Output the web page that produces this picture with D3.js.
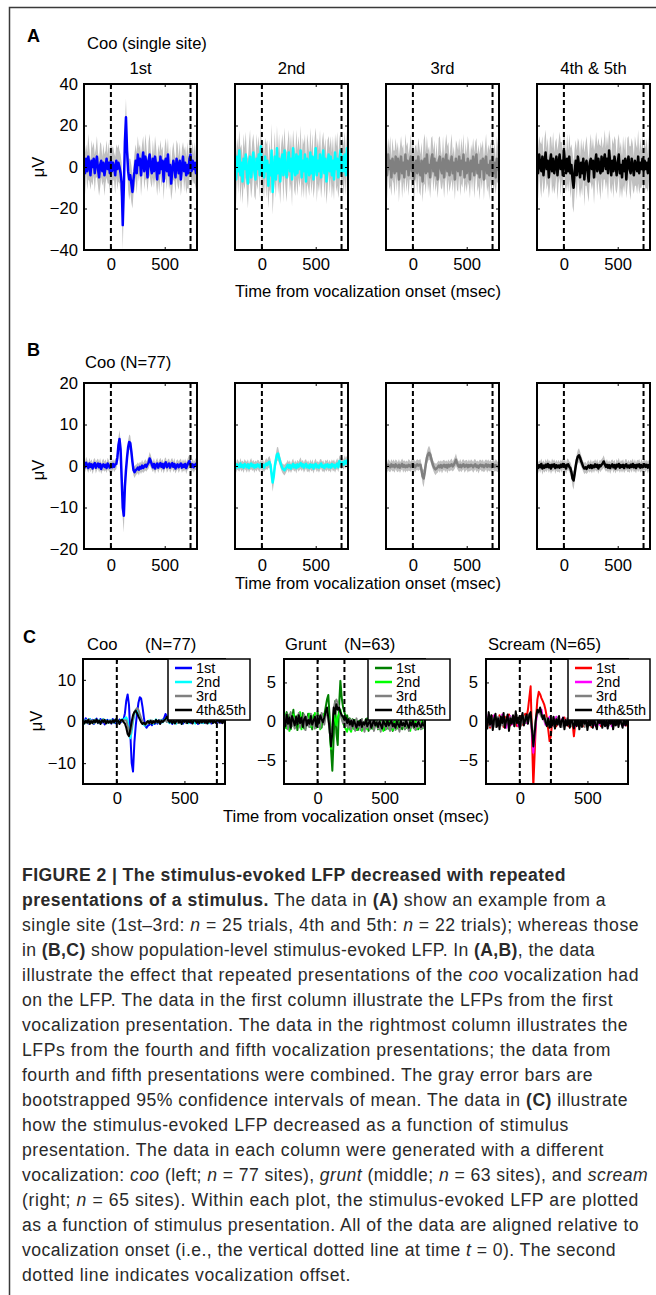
<!DOCTYPE html>
<html><head><meta charset="utf-8">
<script src="https://cdn.jsdelivr.net/npm/d3@7"></script>
<style>body{margin:0;background:#fff}svg{display:block}</style>
</head><body><svg id="c" width="656" height="1295"></svg>
<script>
// ---------- DATA (time grid: -250 ms, step 10 ms) ----------
const T0 = -250, STEP = 10;
const xDomain = [-250, 800];
const xTicks = [0, 500];
const presTitles = ["1st", "2nd", "3rd", "4th & 5th"];
const legendLabels = ["1st", "2nd", "3rd", "4th&5th"];
const cooOffset = 740, gruntOffset = 200, screamOffset = 230;
const yTicksA = [-40, -20, 0, 20, 40];
const yTicksB = [-20, -10, 0, 10, 20];
const yTicksCoo = [-10, 0, 10];
const yTicksGS = [-5, 0, 5];

// Panel A: single site, mean and CI half-width (uV)
const a1 = [2,-3,4,-2,5,1,-4,3,0,4, -3,2,5,-1,-5,1,3,-2,2,-4, 0,4,-1,2,-3,3,-2,2,0,-4, 3,-1,2,0,-3,-8,-28,-10,12,24,
 8,-2,-6,-4,-8,-12,-6,-2,3,-3, 6,1,4,-4,2,7,-2,5,2,-5, 3,6,0,-3,4,-2,5,1,-6,2, -3,5,-1,3,-7,2,4,-2,6,-4,
 1,-8,-2,3,0,-5,4,1,-3,3, -6,0,5,-2,2,-4,1,-3,4,6, -2,3,-1,2,-3,1];
const a1ci = [8,10,7,9,11,8,7,10,9,8, 9,7,10,8,9,11,8,7,9,10, 8,9,7,10,8,9,11,8,7,9, 8,10,9,8,9,10,12,9,8,9,
 8,9,10,8,9,8,7,9,8,10, 9,8,7,10,9,8,9,11,8,7, 9,10,8,7,9,8,10,9,8,9, 10,8,9,7,9,8,10,9,8,7,
 9,8,10,9,7,8,9,10,8,9, 8,9,7,10,8,9,11,8,9,10, 8,9,7,10,8,9];
const a2 = [3,-6,5,-2,8,-4,2,-7,4,-1, 6,-3,-8,2,5,-5,1,7,-2,-6, 4,-1,6,-4,10,-3,2,-5,5,-2, 3,-9,1,-4,8,-12,-2,5,-6,9,
 -3,4,-7,2,6,-4,8,-1,-5,3, 7,-2,4,-6,9,0,-4,6,-3,5, -1,8,-5,3,-2,6,-7,4,1,-4, 7,-3,5,-6,2,9,-4,3,-2,6,
 -5,2,8,-3,4,-7,1,6,-2,5, -4,3,-6,7,-1,4,-5,2,8,-3, 5,-2,6,-4,9,3];
const a2ci = [10,12,9,11,10,13,9,11,12,10, 11,9,12,10,13,10,11,9,12,10, 12,10,9,11,10,12,11,10,9,13, 10,11,12,9,13,11,10,12,9,11,
 10,12,11,9,10,13,11,10,12,9, 11,10,12,13,9,11,10,12,11,10, 9,12,10,11,13,10,9,12,11,10, 12,10,11,9,12,10,13,11,10,12,
 10,11,9,12,10,11,12,9,11,10, 11,12,10,9,11,13,10,12,9,11, 10,12,11,10,9,12];
const a3 = [2,-4,6,-1,3,-5,4,0,-3,5, -2,4,-6,1,5,-3,2,-5,6,-1, 3,-4,2,5,-2,4,-6,1,3,-3, 5,-1,-4,3,-7,2,4,-3,6,-2,
 1,-5,3,6,-2,4,-4,2,-6,3, 5,-1,-3,4,-5,2,6,-2,3,-4, 1,5,-3,2,-6,4,0,-2,5,-4, 3,-1,6,-5,2,-3,4,1,-6,3,
 -2,5,-4,2,6,-3,1,-5,3,-1, 4,-6,2,5,-3,1,-4,3,-2,5, -3,2,-5,4,1,-2];
const a3ci = [9,11,8,10,12,9,10,8,11,9, 10,8,11,9,10,12,9,8,10,11, 9,10,8,11,9,10,12,9,8,10, 9,11,10,9,10,11,12,10,9,10,
 9,10,11,9,10,9,8,10,9,11, 10,9,8,11,10,9,10,12,9,8, 10,11,9,8,10,9,11,10,9,10, 11,9,10,8,10,9,11,10,9,8,
 10,9,11,10,8,9,10,11,9,10, 9,10,8,11,9,10,12,9,10,11, 9,10,8,11,9,10];
const a4 = [4,-3,6,1,-2,5,-4,2,7,-1, 3,-5,2,6,-2,4,-3,1,5,-4, 2,6,-1,3,-4,8,2,-3,4,-2, 5,-3,1,-6,-10,-2,3,-4,5,1,
 -5,2,-3,4,-6,1,3,-2,-7,2, 4,-1,3,-5,2,6,-2,4,0,-3, 5,-2,3,6,-1,4,-3,8,2,-4, 3,-2,5,1,-4,2,6,-3,1,-5,
 3,-2,4,-6,2,5,-1,-3,4,0, -4,3,1,-2,5,-3,2,-1,4,-2, 3,-1,2,-3,4,1];
const a4ci = [10,12,9,11,13,10,9,12,11,10, 11,10,12,9,11,13,10,11,9,12, 10,11,13,9,12,10,11,9,12,10, 11,12,10,13,12,11,10,12,9,11,
 10,12,11,9,13,10,12,11,10,9, 12,10,11,13,9,11,12,10,11,13, 10,11,9,12,10,11,13,10,12,9, 11,13,10,12,9,11,10,12,11,10,
 12,10,11,9,12,10,11,13,10,11, 9,12,10,11,13,10,12,9,11,10, 11,10,12,9,11,10];

// Panel B: population coo (N=77), mean and CI half-width (uV)
const b1 = [0.5,-0.3,0.8,0.2,-0.5,0.6,-0.2,0.4,-0.6,0.3, 0.7,-0.4,0.2,0.6,-0.3,0.5,-0.7,0.1,0.4,-0.2, 0.3,-0.5,0.6,0.1,-0.4,0.2,-0.3,0.5,-0.2,0.4,
 0.5,2,5,6.5,4,-3,-10,-12,-5,-1, 2,4.5,5.8,5.5,3.5,1,-1,-1.5,-1,-0.8, -0.4,-0.9,-0.2,-0.6,0.1,-0.5,-0.1,0.3,-0.2,0.4,
 0.8,1.8,1.2,0.4,-0.3,0.5,-0.6,0.2,0.6,-0.4, 0.3,0.7,-0.2,0.5,-0.5,0.4,0.9,-0.3,0.2,0.6, -0.4,0.3,0.7,-0.2,0.5,-0.6,0.1,0.4,-0.3,0.2,
 0.6,-0.4,0.3,-0.2,0.5,-0.5,0.2,0.8,1.2,0.3, -0.2,0.4,-0.3,0.2,0.5,-0.1];
const b1ci = [1.3,1.2,1.4,1.3,1.2,1.4,1.3,1.2,1.4,1.3, 1.2,1.4,1.3,1.2,1.3,1.4,1.2,1.3,1.4,1.2, 1.3,1.2,1.4,1.3,1.2,1.3,1.4,1.2,1.3,1.4,
 1.3,1.5,1.9,2.2,2,1.8,2.8,4,2.5,1.6, 1.5,1.7,1.8,1.8,1.6,1.4,1.3,1.4,1.3,1.2, 1.3,1.4,1.2,1.3,1.4,1.2,1.3,1.4,1.2,1.3,
 1.4,1.6,1.5,1.3,1.2,1.4,1.3,1.2,1.4,1.3, 1.2,1.3,1.4,1.2,1.3,1.4,1.2,1.3,1.4,1.2, 1.3,1.4,1.2,1.3,1.4,1.2,1.3,1.2,1.4,1.3,
 1.2,1.3,1.4,1.2,1.3,1.4,1.3,1.5,1.6,1.3, 1.2,1.4,1.3,1.2,1.4,1.3];
const b2 = [0.3,-0.5,0.4,0.1,-0.3,0.6,-0.2,0.2,-0.4,0.5, 0.1,-0.3,0.4,-0.5,0.2,0.6,-0.1,0.3,-0.4,0.2, -0.2,0.4,0.1,-0.3,0.5,-0.1,0.3,-0.4,0.2,0.6,
 0.2,0.8,1,0.3,-2,-4,-2.5,0,1.5,2.8, 3,2,1,0.2,-0.5,-0.8,-1,-0.6,-0.2,0.3, -0.4,0.2,-0.6,0.1,0.5,-0.3,0.2,-0.5,0.4,-0.2,
 0.3,0.7,-0.1,0.4,-0.4,0.2,0.5,-0.3,0.1,-0.5, 0.4,-0.2,0.3,-0.6,0.2,0.5,-0.3,0.1,-0.4,0.3, 0.6,-0.2,0.1,-0.5,0.3,-0.1,0.4,-0.3,0.2,-0.4,
 0.5,-0.1,0.3,-0.4,0.2,0.6,-0.3,1.2,0.8,0.4, 0.9,0.3,1.2,0.6,1.3,0.8];
const b2ci = [1.2,1.1,1.3,1.2,1.1,1.3,1.2,1.1,1.3,1.2, 1.1,1.3,1.2,1.1,1.2,1.3,1.1,1.2,1.3,1.1, 1.2,1.1,1.3,1.2,1.1,1.2,1.3,1.1,1.2,1.3,
 1.2,1.3,1.4,1.3,1.6,2.2,1.8,1.4,1.5,1.7, 1.6,1.4,1.3,1.2,1.1,1.2,1.3,1.2,1.1,1.2, 1.3,1.2,1.1,1.2,1.3,1.1,1.2,1.3,1.1,1.2,
 1.3,1.4,1.2,1.1,1.2,1.3,1.1,1.2,1.3,1.1, 1.2,1.1,1.3,1.2,1.1,1.3,1.2,1.1,1.2,1.3, 1.1,1.2,1.3,1.1,1.2,1.3,1.2,1.1,1.3,1.2,
 1.1,1.2,1.3,1.2,1.1,1.3,1.2,1.4,1.3,1.2, 1.3,1.2,1.4,1.3,1.2,1.3];
const b3 = [0.2,-0.4,0.3,0,-0.3,0.4,-0.1,0.2,-0.3,0.4, 0,-0.3,0.3,-0.4,0.1,0.5,-0.2,0.2,-0.3,0.1, -0.2,0.3,0.1,-0.2,0.4,0,0.3,-0.3,0.1,0.4,
 0.1,0.3,0.3,-1,-2.5,-3,-1.5,0.5,2,2.8, 3.2,2.8,1.8,0.8,0,-0.5,-0.8,-0.6,-0.3,0.1, -0.3,0.2,-0.4,0.1,0.3,-0.2,0.2,-0.4,0.3,-0.1,
 0.2,0.4,-0.1,0.3,0.8,1.5,0.7,0.1,-0.2,0.3, -0.3,0.2,0.4,-0.2,0.1,0.3,-0.3,0.2,-0.1,0.3, 0.1,-0.3,0.2,0.4,-0.2,0.1,-0.4,0.2,0.3,-0.1,
 0.2,-0.3,0.1,0.4,-0.2,0.3,-0.1,0.2,-0.3,0.1, 0.3,-0.2,0.2,0,-0.3,0.2];
const b3ci = [1.3,1.2,1.3,1.4,1.2,1.3,1.2,1.4,1.3,1.2, 1.3,1.2,1.4,1.3,1.2,1.3,1.4,1.2,1.3,1.2, 1.2,1.4,1.3,1.2,1.3,1.2,1.4,1.3,1.2,1.3,
 1.3,1.2,1.4,1.5,1.8,2.1,1.7,1.4,1.5,1.6, 1.7,1.5,1.4,1.3,1.2,1.3,1.4,1.2,1.3,1.2, 1.3,1.2,1.4,1.3,1.2,1.3,1.2,1.4,1.3,1.2,
 1.3,1.4,1.2,1.3,1.4,1.5,1.3,1.2,1.3,1.4, 1.2,1.3,1.2,1.4,1.3,1.2,1.3,1.4,1.2,1.3, 1.2,1.3,1.4,1.2,1.3,1.2,1.4,1.3,1.2,1.3,
 1.4,1.2,1.3,1.2,1.4,1.3,1.2,1.3,1.4,1.2, 1.3,1.2,1.4,1.3,1.2,1.3];
const b4 = [0.4,-0.5,0.2,-0.3,0.5,-0.6,0.1,-0.4,0.3,-0.2, 0.5,-0.3,0.2,-0.6,0.3,-0.1,0.4,-0.5,0.2,-0.3, 0.1,-0.4,0.3,-0.2,0.5,-0.1,0.2,-0.6,0.3,0.4,
 -0.2,-0.5,-1.5,-3,-3.5,-1.8,0,1.5,2.3,2.6, 2,1.2,0.5,-0.2,-0.6,-0.3,-0.7,-0.2,0.1,-0.4, 0.2,-0.5,0.1,-0.3,0.4,-0.2,0.3,-0.6,0.2,-0.1,
 0.3,0.6,1.1,0.4,-0.2,0.3,-0.4,0.2,-0.5,0.1, 0.4,-0.3,0.2,-0.6,0.3,-0.1,0.5,-0.4,0.2,-0.2, 0.3,-0.5,0.2,0.4,-0.3,0.1,-0.4,0.3,-0.2,0.5,
 -0.3,0.2,-0.5,0.3,-0.1,0.4,-0.4,0.2,-0.3,0.1, 0.4,-0.2,0.3,-0.4,0.2,-0.1];
const b4ci = [1.4,1.3,1.2,1.4,1.3,1.5,1.3,1.2,1.4,1.3, 1.3,1.4,1.2,1.3,1.5,1.3,1.2,1.4,1.3,1.2, 1.4,1.3,1.2,1.4,1.3,1.2,1.4,1.3,1.5,1.3,
 1.3,1.4,1.6,1.9,2.2,1.8,1.5,1.4,1.6,1.7, 1.5,1.4,1.3,1.2,1.4,1.3,1.2,1.4,1.3,1.2, 1.4,1.3,1.2,1.4,1.3,1.2,1.4,1.3,1.2,1.4,
 1.3,1.4,1.5,1.3,1.2,1.4,1.3,1.2,1.4,1.3, 1.2,1.4,1.3,1.2,1.4,1.3,1.5,1.3,1.2,1.4, 1.3,1.2,1.4,1.3,1.2,1.4,1.3,1.2,1.4,1.3,
 1.2,1.4,1.3,1.2,1.4,1.3,1.2,1.4,1.3,1.2, 1.4,1.3,1.2,1.4,1.3,1.2];

// Panel C: grunt (N=63) and scream (N=65) means (uV); coo uses panel B means
const g1 = [0.5,-0.8,1.2,-0.3,0.9,-1,0.4,1.5,-0.6,0.2, -1.1,0.7,0.3,-0.5,1.1,-0.9,0.6,-0.2,1,-0.7, 0.4,-1,0.8,0.2,-0.6,1.2,-0.3,0.5,-0.8,0.9,
 0.8,1.8,2.8,3.4,0.5,-3.5,-6.3,-2,2.6,-1.5, -3,2,5.2,3,1.8,1.2,0.5,0.8,-0.3,0.4, -0.6,0.3,-0.9,0.2,-0.4,-1.1,0.1,-0.7,0.3,-1,
 -0.2,-0.8,0.4,-1.2,-0.3,0.2,-0.9,-0.1,-0.6,0.3, -1,-0.4,0.2,-0.8,-0.2,-1.1,0.1,-0.5,-0.9,0.2, -0.6,-1.2,0,-0.4,-0.9,0.3,-0.7,-0.2,-1,-0.3,
 0.1,-0.8,-0.4,-1.1,0.2,-0.6,-0.3,-0.9,0,-0.5, -1,-0.2,-0.7,0.1,-0.6,-0.3];
const g2 = [-0.3,1,-0.9,0.4,-1.2,0.6,-0.2,0.9,-0.8,0.3, 0.8,-0.5,1.2,-1,0.2,0.7,-0.9,0.4,-0.3,1, -0.7,0.5,-0.2,1.1,-0.8,0.3,0.6,-1,0.2,0.9,
 0.4,1,1.5,0.8,-1,-3.5,-1.2,1,0.3,-0.5, 0.5,1,1.5,0.6,-0.2,-0.6,-1,-1.3,-0.5,-1, -1.3,-0.4,-0.9,0.2,-1.1,-0.3,-0.8,0.1,-1.2,-0.2,
 -0.7,0.3,-1,-0.4,0.1,-0.9,-0.2,-1.1,0.2,-0.6, -0.3,-1,0.3,-0.7,-1.2,0,-0.5,-0.9,0.1,-0.8, -0.2,-1.1,-0.4,0.3,-0.9,-0.3,-1,0.2,-0.6,-0.4,
 -1,0.1,-0.7,-0.3,-1.2,0.2,-0.5,-0.8,0.1,-1, -0.4,-0.8,0.2,-0.9,-0.3,-0.6];
const g3 = [0.8,-0.4,1,-1,0.3,1.2,-0.6,0.5,-0.9,0.7, -0.2,1.1,-0.8,0.4,-0.3,0.9,-1.1,0.6,0.1,-0.7, 1,-0.5,0.3,-0.9,0.8,-0.2,0.6,-0.8,1.1,0.2,
 -0.4,0.7,1.2,0.4,-1.5,-2,-0.5,1.5,2.5,2.8, 2.3,1.8,1,0.3,-0.2,0.4,-0.6,0.1,-0.8,0.3, -1,0.2,-0.5,-1.2,0.4,-0.7,-0.2,-1.1,0.3,-0.6,
 -1.3,-0.1,-0.8,0.2,-1,-0.4,0.3,-1.2,-0.3,0.1, -0.9,-0.2,-1.3,0.2,-0.6,-0.1,-1,0.3,-0.7,-1.2, 0,-0.8,-0.3,-1.1,0.2,-0.5,-1.3,-0.2,-0.6,0.1,
 -1,-0.4,0.2,-1.2,-0.3,-0.8,0.1,-0.6,-1.1,-0.2, -0.7,0.2,-1,-0.4,-0.8,-0.1];
const g4 = [0.2,-0.6,0.9,-0.3,0.5,-0.8,0.7,0.1,-0.5,0.6, -0.4,0.8,-0.2,0.5,-0.7,0.3,0.6,-0.5,0.2,-0.3, 0.7,-0.4,0.1,0.6,-0.6,0.4,-0.2,0.8,0.3,-0.1,
 0.5,1.2,1.8,0.5,-1,-3.2,-1.5,1.8,1,2.2, 1.5,1.8,1.2,0.8,0.6,0.2,0.5,-0.2,0.3,-0.4, 0.1,-0.6,0.2,-0.3,-0.8,0,-0.5,0.2,-0.7,-0.1,
 -0.4,0.3,-0.6,-0.2,0.1,-0.8,-0.3,0.2,-0.5,-0.1, -0.7,0,-0.4,-0.9,0.1,-0.3,-0.6,0.2,-0.5,-0.2, 0.1,-0.6,-0.3,-0.8,0,-0.4,-0.7,0.1,-0.5,-0.2,
 -0.6,0.1,-0.4,-0.8,-0.1,-0.5,0.2,-0.7,-0.3,-0.6, 0,-0.4,-0.7,-0.2,-0.5,-0.3];
const s1 = [0.3,-0.5,0.6,-0.8,0.2,0.7,-0.3,0.5,-0.6,0.1, 0.8,-0.2,0.4,-0.7,0.6,-0.4,0.2,0.9,-0.5,0.3, -0.3,0.6,0.1,-0.6,0.4,-0.2,0.7,-0.4,0.3,1,
 0.5,1.5,3,4.5,-2,-8.3,-4,0.5,2.8,3.8, 3.5,3,2.6,2.2,1.5,0.5,-1,-2.5,-1.8,0.2, -0.4,0.3,-0.6,0.1,0.4,-0.5,0.2,-0.3,0.5,-0.2,
 0.3,-0.6,0.1,0.4,-0.2,-1.9,-0.3,0.2,-0.5,0.3, -0.1,0.4,-0.6,0.2,-0.3,0.5,-0.4,0.1,-0.7,0.3, 0.2,-0.5,0.4,-0.2,0.1,-0.6,0.3,-0.1,0.4,-0.3,
 -0.5,0.2,-0.3,0.4,-0.6,0.1,-0.2,0.3,-0.4,0.2, -0.1,0.4,-0.3,0.2,-0.5,0.1];
const s2 = [0.6,-0.2,0.9,-0.5,0.3,-0.7,0.8,0.1,-0.4,0.5, -0.6,0.4,0.9,-0.3,0.2,-0.8,0.5,-0.1,0.7,-0.4, 0.3,-0.5,0.8,0.2,-0.6,0.4,-0.1,0.6,-0.3,0.2,
 -0.2,0.4,0.8,0.5,-1.5,-4,-2,0,1,1.2, 1,1.5,0.5,0.2,-0.4,0.3,-0.2,0.6,0.1,-0.5, 0.4,-0.3,0.6,-0.1,0.3,-0.6,0.2,0.5,-0.4,0.1,
 -0.2,0.5,-0.5,0.3,-0.1,0.4,-0.6,0.2,0.5,-0.3, 0.1,-0.4,0.6,-0.2,0.3,-0.5,0.2,0.4,-0.3,0.1, -0.5,0.3,-0.1,0.5,-0.4,0.2,0.6,-0.2,0.1,-0.5,
 0.3,-0.2,0.4,-0.6,0.2,0.1,-0.4,0.5,-0.1,0.3, -0.3,0.2,-0.5,0.4,0.1,-0.2];
const s3 = [-0.4,0.5,0.1,-0.6,0.8,-0.2,0.4,-0.7,0.3,0.6, -0.3,0.7,-0.5,0.2,-0.8,0.4,0.1,-0.4,0.6,-0.2, 0.5,-0.6,0.2,0.8,-0.3,0.4,-0.5,0.1,0.7,-0.2,
 0.3,0.6,1,0.2,-1,-2,-0.8,0.5,1,1.3, 1,0.6,0.8,0.3,-0.2,0.4,-0.5,0.2,-0.3,0.5, -0.6,0.2,-0.2,0.5,-0.4,0.1,-0.7,0.3,0,-0.5,
 0.4,-0.3,0.2,-0.6,0.5,-0.1,0.3,-0.5,0.2,-0.2, 0.5,-0.4,0.1,-0.7,0.3,0.6,-0.2,0.2,-0.5,0.4, -0.1,0.3,-0.6,0.2,0.5,-0.3,0.1,-0.4,0.6,-0.2,
 0.2,-0.5,0.4,-0.1,-0.6,0.3,0.1,-0.4,0.5,-0.3, 0.1,-0.4,0.3,-0.2,0.4,-0.1];
const s4 = [0.5,-0.9,1.2,-0.4,0.8,-1.1,0.3,1,-0.7,0.4, -1,0.6,-0.2,1.1,-0.8,0.2,0.9,-1.2,0.4,-0.3, 0.8,-0.6,1.3,-0.2,0.5,-1,0.3,1.1,-0.5,0.2,
 0.9,-0.3,0.8,1.2,-1,-3.2,-1.5,0.5,1.5,1.2, 1.8,1,0.3,0.8,0,-0.6,0.4,-0.8,0.2,-0.5, 0.6,-0.9,0.3,-0.4,0.7,-0.7,0.1,0.5,-1,0.2,
 -0.5,0.4,-0.8,0.6,-0.2,-0.9,0.3,-0.6,0.5,-1, 0.2,-0.7,0.6,-0.3,0.4,-1.1,0.1,-0.5,0.5,-0.8, 0.3,-0.4,-1,0.5,-0.2,0.3,-0.8,0.4,-0.6,0.1,
 -0.9,0.4,-0.3,0.6,-1,0.2,-0.5,0.3,-0.7,0.5, -0.2,-0.8,0.4,-0.5,0.1,-0.6];

const captionLines = [
 [["FIGURE 2 | The stimulus-evoked LFP decreased with repeated","b"]],
 [["presentations of a stimulus.","b"],[" The data in ",""],["(A)","b"],[" show an example from a",""]],
 [["single site (1st–3rd: ",""],["n","i"],[" = 25 trials, 4th and 5th: ",""],["n","i"],[" = 22 trials); whereas those",""]],
 [["in ",""],["(B,C)","b"],[" show population-level stimulus-evoked LFP. In ",""],["(A,B)","b"],[", the data",""]],
 [["illustrate the effect that repeated presentations of the ",""],["coo","i"],[" vocalization had",""]],
 [["on the LFP. The data in the first column illustrate the LFPs from the first",""]],
 [["vocalization presentation. The data in the rightmost column illustrates the",""]],
 [["LFPs from the fourth and fifth vocalization presentations; the data from",""]],
 [["fourth and fifth presentations were combined. The gray error bars are",""]],
 [["bootstrapped 95% confidence intervals of mean. The data in ",""],["(C)","b"],[" illustrate",""]],
 [["how the stimulus-evoked LFP decreased as a function of stimulus",""]],
 [["presentation. The data in each column were generated with a different",""]],
 [["vocalization: ",""],["coo","i"],[" (left; ",""],["n","i"],[" = 77 sites), ",""],["grunt","i"],[" (middle; ",""],["n","i"],[" = 63 sites), and ",""],["scream","i"]],
 [["(right; ",""],["n","i"],[" = 65 sites). Within each plot, the stimulus-evoked LFP are plotted",""]],
 [["as a function of stimulus presentation. All of the data are aligned relative to",""]],
 [["vocalization onset (i.e., the vertical dotted line at time ",""],["t","i"],[" = 0). The second",""]],
 [["dotted line indicates vocalization offset.",""]]
];
// right edge of each caption line in the reference (layout only)
const captionRight = [566,606,639,595,639,613,628,611,593,628,569,604,648,639,639,616,351];

// ---------- DRAWING ----------
const FONT = '"Liberation Sans", Arial, Helvetica, sans-serif';
const FS = 16.6;
const svg = d3.select("#c");
svg.append("rect").attr("width", 656).attr("height", 1295).attr("fill", "#fff");
svg.append("path").attr("d", "M9.5,1295V7.5H656").attr("fill", "none").attr("stroke", "#3a3a3a").attr("stroke-width", 1.5);

function txt(x, y, s, o = {}) {
  return svg.append("text").attr("x", x).attr("y", y).text(s)
    .attr("font-family", FONT).attr("font-size", o.size || FS)
    .attr("font-weight", o.bold ? "bold" : null)
    .attr("text-anchor", o.anchor || "start").attr("fill", o.fill || "#000");
}
function ylab(cx, cy) {
  svg.append("text").attr("transform", `translate(${cx},${cy}) rotate(-90)`)
    .attr("text-anchor", "middle").attr("dominant-baseline", "central")
    .attr("font-family", FONT).attr("font-size", FS).text("μV");
}

let clipN = 0;
function panel(cfg) {
  const x = d3.scaleLinear().domain(xDomain).range([cfg.left, cfg.right]);
  const y = d3.scaleLinear().domain(cfg.yDomain).range([cfg.bottom, cfg.top]);
  const id = "clip" + (clipN++);
  svg.append("clipPath").attr("id", id).append("rect")
    .attr("x", cfg.left).attr("y", cfg.top).attr("width", cfg.right - cfg.left).attr("height", cfg.bottom - cfg.top);
  const g = svg.append("g").attr("clip-path", `url(#${id})`);
  cfg.series.forEach(s => {
    const pts = s.mean.map((v, i) => ({ t: T0 + i * STEP, v, h: s.ci ? s.ci[i] : 0 }));
    if (s.ci) g.append("path").datum(pts).attr("fill", "#c0c0c0")
      .attr("d", d3.area().x(d => x(d.t)).y0(d => y(d.v - d.h)).y1(d => y(d.v + d.h)));
    g.append("path").datum(pts).attr("fill", "none").attr("stroke", s.color)
      .attr("stroke-width", cfg.lw).attr("stroke-linejoin", "round")
      .attr("d", d3.line().x(d => x(d.t)).y(d => y(d.v)));
  });
  [0, cfg.offset].forEach(t => svg.append("line")
    .attr("x1", x(t)).attr("x2", x(t)).attr("y1", cfg.top).attr("y2", cfg.bottom)
    .attr("stroke", "#000").attr("stroke-width", 2).attr("stroke-dasharray", "5,3"));
  const ax = (gen, tr) => {
    const a = svg.append("g").attr("transform", tr).call(gen);
    a.attr("font-family", FONT).attr("font-size", FS);
    a.select(".domain").remove();
    a.selectAll("line").attr("stroke", "#000");
    a.selectAll("text").attr("fill", "#000");
    return a;
  };
  ax(d3.axisLeft(y).tickValues(cfg.yTicks).tickSize(-3).tickPadding(cfg.ypad || 6)
      .tickFormat(cfg.yLabels ? d3.format("d") : ""), `translate(${cfg.left},0)`);
  ax(d3.axisRight(y).tickValues(cfg.yTicks).tickSize(-3).tickFormat(""), `translate(${cfg.right},0)`);
  ax(d3.axisBottom(x).tickValues(xTicks).tickSize(-3).tickPadding(cfg.xpad), `translate(0,${cfg.bottom})`);
  ax(d3.axisTop(x).tickValues(xTicks).tickSize(-3).tickFormat(""), `translate(0,${cfg.top})`);
  svg.append("rect").attr("x", cfg.left).attr("y", cfg.top)
    .attr("width", cfg.right - cfg.left).attr("height", cfg.bottom - cfg.top)
    .attr("fill", "none").attr("stroke", "#000").attr("stroke-width", 2);
  if (cfg.legend) {
    const L = cfg.legend, lg = svg.append("g");
    const box = lg.append("rect").attr("x", L.x).attr("y", cfg.top).attr("height", 61)
      .attr("fill", "#fff").attr("stroke", "#000").attr("stroke-width", 1.5);
    let maxW = 0;
    cfg.series.forEach((s, i) => {
      const yy = cfg.top + 9 + i * 14;
      lg.append("line").attr("x1", L.x + 7).attr("x2", L.x + 24).attr("y1", yy).attr("y2", yy)
        .attr("stroke", s.color).attr("stroke-width", 2.5);
      const t = lg.append("text").attr("x", L.x + 28).attr("y", yy).attr("dominant-baseline", "central")
        .attr("font-family", FONT).attr("font-size", 14.5).text(legendLabels[i]);
      maxW = Math.max(maxW, t.node().getComputedTextLength());
    });
    box.attr("width", Math.round(28 + maxW + 4));
  }
}

// Panel A
txt(27, 42, "A", { bold: true, size: 18 });
txt(87, 49, "Coo (single site)");
const colLefts = [84, 235, 386, 537], colW = 113;
const aSeries = [[a1, a1ci, "#0000ff"], [a2, a2ci, "#00ffff"], [a3, a3ci, "#808080"], [a4, a4ci, "#000000"]];
aSeries.forEach((s, i) => {
  panel({ left: colLefts[i], right: colLefts[i] + colW, top: 84, bottom: 250, yDomain: [-40, 40],
    yTicks: yTicksA, yLabels: i === 0, xpad: 8, lw: 2.5, offset: cooOffset,
    series: [{ mean: s[0], ci: s[1], color: s[2] }] });
  txt(colLefts[i] + colW / 2, 74, presTitles[i], { anchor: "middle" });
});
ylab(38, 167);
txt(368, 297, "Time from vocalization onset (msec)", { anchor: "middle" });

// Panel B
txt(27, 356, "B", { bold: true, size: 18 });
txt(85, 368, "Coo (N=77)");
const bSeries = [[b1, b1ci, "#0000ff"], [b2, b2ci, "#00ffff"], [b3, b3ci, "#808080"], [b4, b4ci, "#000000"]];
bSeries.forEach((s, i) => {
  panel({ left: colLefts[i], right: colLefts[i] + colW, top: 383, bottom: 549, yDomain: [-20, 20],
    yTicks: yTicksB, yLabels: i === 0, xpad: 10, lw: 2.5, offset: cooOffset,
    series: [{ mean: s[0], ci: s[1], color: s[2] }] });
});
ylab(38, 470);
txt(368, 589, "Time from vocalization onset (msec)", { anchor: "middle" });

// Panel C
txt(23, 643, "C", { bold: true, size: 18 });
txt(87, 650, "Coo"); txt(145, 650, "(N=77)");
txt(285, 650, "Grunt"); txt(344, 650, "(N=63)");
txt(488, 650, "Scream (N=65)");
panel({ left: 83, right: 225, top: 659, bottom: 784, yDomain: [-15, 15], yTicks: yTicksCoo, yLabels: true,
  ypad: 7, xpad: 8, lw: 2, offset: cooOffset, legend: { x: 168 },
  series: [{ mean: b1, color: "#0000ff" }, { mean: b2, color: "#00ffff" }, { mean: b3, color: "#808080" }, { mean: b4, color: "#000000" }] });
panel({ left: 284, right: 425, top: 659, bottom: 784, yDomain: [-8, 8], yTicks: yTicksGS, yLabels: true,
  ypad: 8, xpad: 8, lw: 2, offset: gruntOffset, legend: { x: 368 },
  series: [{ mean: g1, color: "#008000" }, { mean: g2, color: "#00ff00" }, { mean: g3, color: "#808080" }, { mean: g4, color: "#000000" }] });
panel({ left: 486, right: 628, top: 659, bottom: 784, yDomain: [-8, 8], yTicks: yTicksGS, yLabels: true,
  ypad: 8, xpad: 8, lw: 2, offset: screamOffset, legend: { x: 568 },
  series: [{ mean: s1, color: "#ff0000" }, { mean: s2, color: "#ff00ff" }, { mean: s3, color: "#808080" }, { mean: s4, color: "#000000" }] });
ylab(36, 721);
txt(356, 822, "Time from vocalization onset (msec)", { anchor: "middle" });

// Caption: each line fitted to the reference line width with letter-spacing
captionLines.forEach((segs, i) => {
  const t = svg.append("text").attr("x", 22).attr("y", 881 + 25 * i)
    .attr("font-family", FONT).attr("font-size", 17.6).attr("fill", "#2a2a2a")
    .style("white-space", "pre");
  segs.forEach(([s, st]) => {
    t.append("tspan").text(s)
      .attr("font-weight", st === "b" ? "bold" : null)
      .attr("font-style", st === "i" ? "italic" : null);
  });
  const w = t.node().getComputedTextLength();
  const n = segs.reduce((k, s) => k + s[0].length, 0);
  const target = captionRight[i] - 22;
  t.attr("letter-spacing", ((target - w) / n).toFixed(3));
});
</script>
</body></html>
